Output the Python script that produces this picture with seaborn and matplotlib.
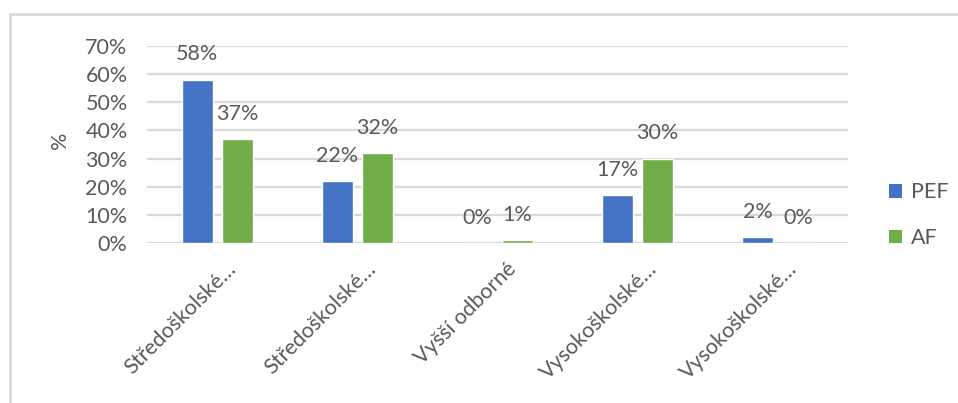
import matplotlib
matplotlib.use("Agg")
import matplotlib.pyplot as plt
import seaborn as sns
import pandas as pd
from matplotlib.lines import Line2D
from matplotlib.patches import Patch
import matplotlib.transforms as mtransforms

categories = ["Středoškolské…", "Středoškolské…", "Vyšší odborné", "Vysokoškolské…", "Vysokoškolské…"]
series_names = ["PEF", "AF"]
pef_values = [58, 22, 0, 17, 2]
af_values = [37, 32, 1, 30, 0]
y_ticks = [0, 10, 20, 30, 40, 50, 60, 70]
colors = ["#4472C4", "#70AD47"]

text_color = "#595959"
grid_color = "#D9D9D9"
fs = 15.5

sns.set_theme(style="white")
plt.rcParams["font.family"] = ["Lato", "DejaVu Sans"]

# unique x keys so repeated category names stay separate groups
rows = []
for i, cat in enumerate(categories):
    rows.append({"key": i, "series": "PEF", "value": pef_values[i]})
    rows.append({"key": i, "series": "AF", "value": af_values[i]})
df = pd.DataFrame(rows)

fig = plt.figure(figsize=(9.58, 4.03), dpi=100)
ax = fig.add_axes([147 / 958, 1 - 243 / 403, (848 - 147) / 958, (243 - 46) / 403])

sns.barplot(data=df, x="key", y="value", hue="series", hue_order=series_names,
            palette=colors, width=0.57, gap=0.225, ax=ax, legend=False,
            saturation=1, zorder=3)

ax.set_ylim(0, 70)
ax.set_yticks(y_ticks)
ax.set_yticklabels([f"{t}%" for t in y_ticks], fontsize=fs, color=text_color)
ax.yaxis.grid(True, color=grid_color, linewidth=1.6, zorder=0)
ax.set_axisbelow(True)
for s in ax.spines.values():
    s.set_visible(False)
ax.tick_params(axis="y", length=0, pad=14)
ax.tick_params(axis="x", length=0, pad=10)

ax.set_xlim(-0.5, len(categories) - 0.5)
ax.set_xticks(range(len(categories)))
ax.set_xticklabels(categories, rotation=45, ha="right", va="center",
                   rotation_mode="anchor", fontsize=fs, color=text_color)
offset = mtransforms.ScaledTranslation(16 / 100, -9 / 100, fig.dpi_scale_trans)
for lbl in ax.get_xticklabels():
    lbl.set_transform(lbl.get_transform() + offset)

ax.set_xlabel("")
ax.set_ylabel("%", fontsize=fs, color=text_color)
ax.yaxis.set_label_coords(-0.11, 0.52)

for cont, vals in zip(ax.containers, [pef_values, af_values]):
    ax.bar_label(cont, labels=[f"{v}%" for v in vals], padding=11,
                 fontsize=fs, color=text_color)

handles = [Patch(facecolor=c, edgecolor="none") for c in colors]
fig.legend(handles, series_names, loc="upper left", bbox_to_anchor=(870 / 958, 1 - 163 / 403),
           frameon=False, fontsize=fs, labelcolor=text_color, handlelength=0.6,
           handleheight=0.6, handletextpad=0.4, labelspacing=1.2)

# outer chart frame
fig.add_artist(Line2D([10 / 958, 10 / 958], [0, 1 - 14 / 403], color=grid_color, linewidth=2,
                      transform=fig.transFigure))
fig.add_artist(Line2D([10 / 958, 1], [1 - 14 / 403, 1 - 14 / 403], color=grid_color, linewidth=2,
                      transform=fig.transFigure))

fig.savefig("out.png", dpi=100, facecolor="white")
